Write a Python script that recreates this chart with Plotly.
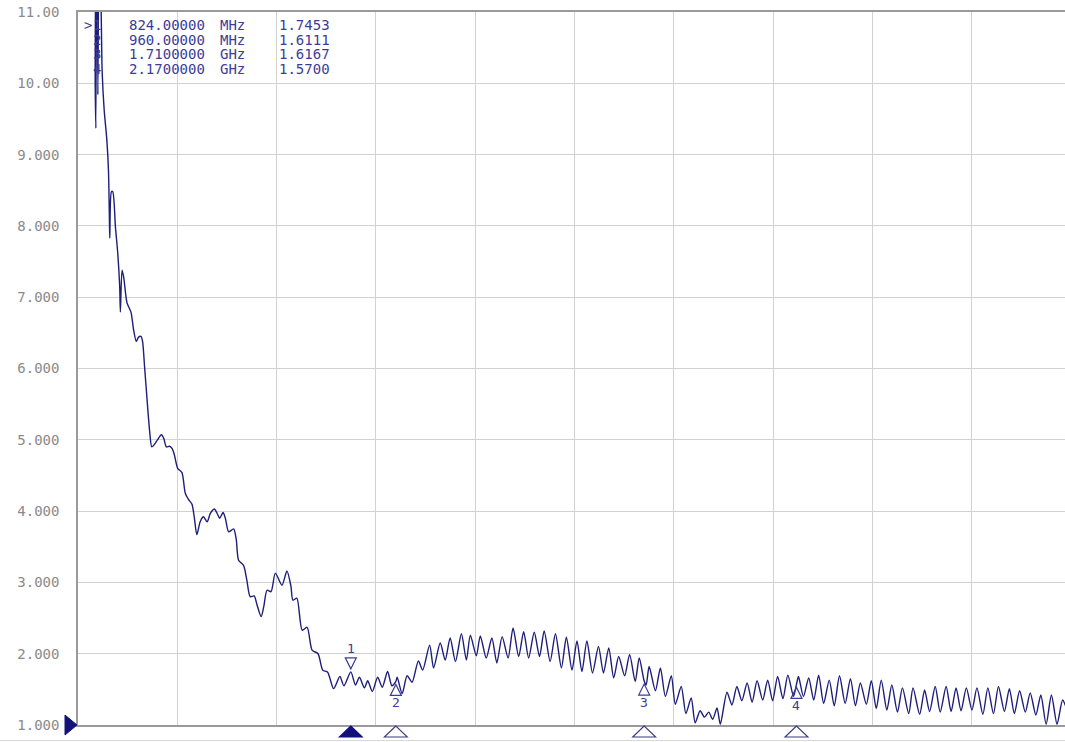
import plotly.graph_objects as go

# ---------------- data ----------------
freq_mhz = [
    0, 48, 52, 54, 57, 60, 64, 70, 73, 79, 87, 92, 95, 96, 101, 105, 113, 120, 126, 128,
    133, 138, 148, 160, 168, 176, 183, 190, 195, 201, 208, 216, 223, 233, 240, 252, 259, 267,
    276, 284, 291, 301, 314, 324, 334, 344, 351, 359, 369, 379, 390, 400, 412, 420, 428, 438,
    445, 455, 470, 478, 485, 500, 510, 520, 532, 541, 553, 561, 571, 583, 596, 616, 631, 643,
    649, 661, 677, 692, 707, 725, 739, 754, 772, 791, 803, 824, 838, 850, 865, 875, 889, 905,
    919, 935, 948, 960, 964, 979, 994, 1009, 1028, 1041, 1062, 1074, 1094, 1109, 1124, 1140,
    1158, 1173, 1185, 1203, 1215, 1233, 1250, 1265, 1281, 1299, 1314, 1331, 1346, 1361, 1378,
    1394, 1408, 1426, 1442, 1460, 1475, 1492, 1507, 1522, 1537, 1554, 1572, 1587, 1603, 1618,
    1633, 1651, 1666, 1683, 1695, 1710, 1716, 1725, 1744, 1759, 1774, 1792, 1804, 1822, 1836,
    1852, 1864, 1879, 1892, 1905, 1917, 1930, 1940, 1960, 1975, 1990, 2005, 2021, 2036, 2051,
    2068, 2083, 2098, 2113, 2129, 2144, 2161, 2170, 2176, 2191, 2207, 2222, 2237, 2252, 2269,
    2284, 2300, 2317, 2333, 2348, 2363, 2381, 2396, 2411, 2426, 2443, 2458, 2475, 2490, 2509,
    2522, 2542, 2557, 2572, 2589, 2604, 2622, 2637, 2652, 2667, 2683, 2700, 2715, 2733, 2748,
    2765, 2780, 2798, 2813, 2828, 2844, 2861, 2876, 2893, 2908, 2924, 2940, 2957, 2974, 2990,
    3000,
]
vswr = [
    16.0, 14.0, 9.93, 9.37, 13.0, 9.84, 12.5, 11.0, 10.16, 9.63, 9.21, 8.78, 8.06, 7.83, 8.48,
    8.48, 7.99, 7.62, 7.14, 6.79, 7.38, 7.28, 6.92, 6.79, 6.54, 6.38, 6.44, 6.45, 6.38, 6.03,
    5.60, 5.14, 4.90, 4.95, 5.00, 5.07, 5.02, 4.90, 4.91, 4.88, 4.79, 4.60, 4.54, 4.25, 4.16,
    4.10, 3.92, 3.67, 3.85, 3.92, 3.85, 3.97, 4.03, 3.97, 3.90, 3.98, 3.90, 3.71, 3.75, 3.60,
    3.31, 3.24, 3.03, 2.80, 2.81, 2.68, 2.52, 2.66, 2.89, 2.87, 3.13, 2.96, 3.16, 2.95, 2.75,
    2.78, 2.33, 2.37, 2.05, 2.00, 1.77, 1.74, 1.51, 1.68, 1.55, 1.745, 1.56, 1.67, 1.52, 1.62,
    1.47, 1.67, 1.53, 1.75, 1.55, 1.611, 1.67, 1.44, 1.69, 1.60, 1.90, 1.77, 2.12, 1.80, 2.15,
    1.91, 2.22, 1.89, 2.28, 1.91, 2.26, 1.97, 2.25, 1.94, 2.22, 1.87, 2.24, 1.94, 2.36, 1.96,
    2.31, 1.94, 2.30, 1.96, 2.32, 1.89, 2.28, 1.80, 2.23, 1.77, 2.18, 1.75, 2.18, 1.73, 2.10,
    1.73, 2.08, 1.66, 1.96, 1.69, 1.99, 1.61, 1.94, 1.617, 1.56, 1.82, 1.48, 1.80, 1.40, 1.69,
    1.29, 1.54, 1.16, 1.38, 1.03, 1.20, 1.11, 1.18, 1.08, 1.24, 1.01, 1.46, 1.28, 1.54, 1.34,
    1.59, 1.32, 1.62, 1.35, 1.63, 1.34, 1.68, 1.37, 1.70, 1.40, 1.57, 1.68, 1.40, 1.66, 1.35,
    1.70, 1.30, 1.63, 1.27, 1.69, 1.30, 1.65, 1.27, 1.59, 1.29, 1.62, 1.23, 1.63, 1.21, 1.56,
    1.18, 1.52, 1.16, 1.52, 1.15, 1.49, 1.19, 1.54, 1.18, 1.54, 1.19, 1.52, 1.20, 1.52, 1.21,
    1.52, 1.15, 1.52, 1.16, 1.54, 1.19, 1.51, 1.16, 1.48, 1.18, 1.45, 1.14, 1.42, 1.01, 1.42,
    1.01, 1.35, 1.20, 1.30,
]

marker_ids = ["1", "2", "3", "4"]
marker_freq_mhz = [824.0, 960.0, 1710.0, 2170.0]
marker_vswr = [1.7453, 1.6111, 1.6167, 1.5700]
marker_above = [True, False, False, False]
active_marker = "1"

y_tick_vals = [1, 2, 3, 4, 5, 6, 7, 8, 9, 10, 11]
y_tick_text = ["1.000", "2.000", "3.000", "4.000", "5.000", "6.000",
               "7.000", "8.000", "9.000", "10.00", "11.00"]

# ---------------- layout constants ----------------
W, H = 1065, 742
ML, MR, MT, MB = 78, 0, 12, 17
X_RANGE = [0, 2981]
Y_RANGE = [1, 11]

TRACE = "#1d1d7a"
MKCOL = "#3c3c98"
AXCOL = "#9a9a9a"
GRID = "#d2d2d2"
MONO = "DejaVu Sans Mono"

plot_w = W - ML - MR
plot_h = H - MT - MB


def px_x(px):
    return (px - ML) / plot_w


def px_y(py):
    return (H - MB - py) / plot_h


def fmt_freq(f):
    if f < 1000:
        return f"{f:.5f} MHz"
    return f"{f / 1000:.7f} GHz"


fig = go.Figure()
fig.add_trace(go.Scatter(
    x=freq_mhz, y=vswr, mode="lines",
    line=dict(color=TRACE, width=1.4, shape="spline", smoothing=0.7),
    hoverinfo="skip",
))

shapes = []
annotations = []

# marker readout table (top left)
row_y = [25, 40, 54.5, 69]
for i, mid in enumerate(marker_ids):
    f = marker_freq_mhz[i]
    num, unit = fmt_freq(f).split(" ")
    cols = [(num, 127, "left"), (unit, 218, "left"), (f"{marker_vswr[i]:.4f}", 277, "left")]
    if mid == active_marker:
        cols.append((">", 94, "right"))
    cols.append((mid, 103, "right"))
    for txt, xp, anchor in cols:
        annotations.append(dict(
            text=txt, xref="paper", yref="paper", x=px_x(xp), y=px_y(row_y[i]),
            xanchor=anchor, yanchor="middle", showarrow=False,
            font=dict(family=MONO, size=14, color=MKCOL),
        ))

# markers on the trace and their labels
for i, mid in enumerate(marker_ids):
    f = marker_freq_mhz[i]
    v = marker_vswr[i]
    if marker_above[i]:
        path = "M0,3 L-5.5,14 L5.5,14 Z"
        yshift = 23.5
    else:
        path = "M0,-3 L-5.5,-14 L5.5,-14 Z"
        yshift = -21
    shapes.append(dict(
        type="path", xref="x", yref="y", xsizemode="pixel", ysizemode="pixel",
        xanchor=f, yanchor=v, path=path,
        line=dict(color=MKCOL, width=1.2), fillcolor="rgba(0,0,0,0)",
    ))
    annotations.append(dict(
        text=mid, xref="x", yref="y", x=f, y=v, yshift=yshift,
        xanchor="center", yanchor="middle", showarrow=False,
        font=dict(family=MONO, size=13, color=MKCOL),
    ))
    # marker position indicators below the x axis
    active = (mid == active_marker)
    shapes.append(dict(
        type="path", xref="x", yref="paper", xsizemode="pixel", ysizemode="pixel",
        xanchor=f, yanchor=0, path="M0,-1 L-11.5,-12 L11.5,-12 Z",
        line=dict(color="#12127a" if active else "#3a3a80", width=1.1),
        fillcolor="#12127a" if active else "white",
    ))

# reference level indicator on the left
shapes.append(dict(
    type="path", xref="paper", yref="paper", xsizemode="pixel", ysizemode="pixel",
    xanchor=0, yanchor=0, path="M-1,0 L-13,10 L-13,-10 Z",
    line=dict(color="#12127a", width=1), fillcolor="#12127a",
))

# thin frame line at the bottom of the window
shapes.append(dict(
    type="line", xref="paper", yref="paper", x0=px_x(0), x1=1.0,
    y0=px_y(740.5), y1=px_y(740.5), line=dict(color="#d8d8d8", width=1.2),
))

fig.update_layout(
    width=W, height=H,
    margin=dict(l=ML, r=MR, t=MT, b=MB),
    paper_bgcolor="white", plot_bgcolor="white",
    showlegend=False,
    shapes=shapes, annotations=annotations,
    xaxis=dict(
        range=X_RANGE, tick0=0, dtick=300, showticklabels=False, ticks="",
        showgrid=True, gridcolor=GRID, gridwidth=1, zeroline=False,
        showline=True, linecolor=AXCOL, linewidth=1.5, mirror=True,
    ),
    yaxis=dict(
        range=Y_RANGE, tickmode="array", tickvals=y_tick_vals, ticktext=y_tick_text,
        ticks="", ticklabelstandoff=14,
        tickfont=dict(family=MONO, size=14, color="#8a8a8a"),
        showgrid=True, gridcolor=GRID, gridwidth=1, zeroline=False,
        showline=True, linecolor=AXCOL, linewidth=1.5, mirror=False,
    ),
)

fig.write_html(
    "out.html",
    config={"displayModeBar": False},
    post_script="document.body.style.margin='0';document.body.style.padding='0';"
                "document.documentElement.style.overflow='hidden';",
)
